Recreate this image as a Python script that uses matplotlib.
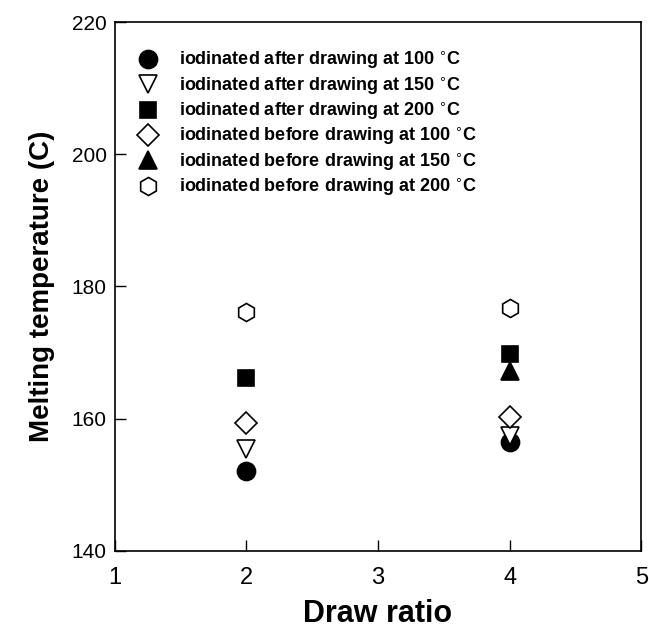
import matplotlib.pyplot as plt

plt.rcParams['font.family'] = ['Liberation Sans', 'DejaVu Sans']

# Data
draw_ratio = [2, 4]
after_100 = [152.1, 156.5]
after_150 = [155.4, 157.3]
after_200 = [166.2, 169.7]
before_100 = [159.3, 160.3]
before_150 = [None, 167.2]
before_200 = [176.2, 176.8]

labels = [
    'iodinated after drawing at 100 $^{\\circ}$C',
    'iodinated after drawing at 150 $^{\\circ}$C',
    'iodinated after drawing at 200 $^{\\circ}$C',
    'iodinated before drawing at 100 $^{\\circ}$C',
    'iodinated before drawing at 150 $^{\\circ}$C',
    'iodinated before drawing at 200 $^{\\circ}$C',
]

fig = plt.figure(figsize=(6.49, 6.33), dpi=100)
ax = fig.add_axes([0.177, 0.13, 0.811, 0.835])

series = [
    (after_100, 'o', 'black', 13),
    (after_150, 'v', 'white', 13),
    (after_200, 's', 'black', 12),
    (before_100, 'D', 'white', 11),
    (before_150, '^', 'black', 13),
    (before_200, 'h', 'white', 13),
]

for (vals, mk, fc, ms), lab in zip(series, labels):
    xs = [x for x, v in zip(draw_ratio, vals) if v is not None]
    ys = [v for v in vals if v is not None]
    ax.plot(xs, ys, linestyle='none', marker=mk, markersize=ms,
            markerfacecolor=fc, markeredgecolor='black', markeredgewidth=1.2,
            label=lab)

ax.set_xlim(1, 5)
ax.set_ylim(140, 220)
ax.set_xticks([1, 2, 3, 4, 5])
ax.set_yticks([140, 160, 180, 200, 220])
ax.tick_params(direction='in', length=8, width=1, top=False, right=False)
ax.tick_params(axis='x', labelsize=17, pad=12)
ax.tick_params(axis='y', labelsize=15, pad=6)
for s in ax.spines.values():
    s.set_linewidth(1.2)

ax.set_xlabel('Draw ratio', fontsize=22, fontweight='bold', labelpad=7)
ax.set_ylabel('Melting temperature (C)', fontsize=20, fontweight='bold', labelpad=12)

leg = ax.legend(loc='upper left', bbox_to_anchor=(0.035, 0.947), frameon=False,
                prop={'weight': 'bold', 'size': 13}, handletextpad=0.95,
                labelspacing=0.22, borderaxespad=0, borderpad=0,
                handlelength=1.6)

fig.savefig('out.png', dpi=100)
